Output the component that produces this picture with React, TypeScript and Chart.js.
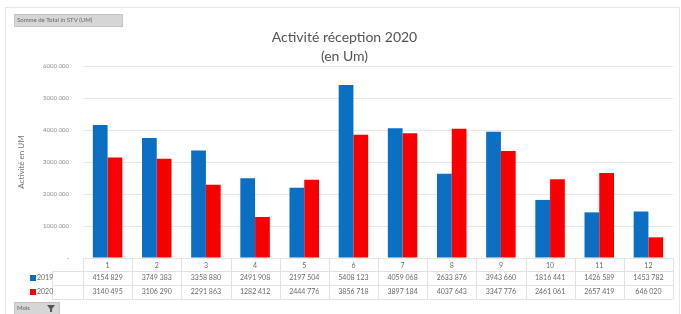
import React, { useEffect, useRef } from "react";
import { Chart, registerables } from "chart.js";

Chart.register(...registerables);

const months = ["1", "2", "3", "4", "5", "6", "7", "8", "9", "10", "11", "12"];
const series2019 = [4154829, 3749383, 3358880, 2491908, 2197504, 5408123, 4059068, 2633876, 3943660, 1816441, 1426589, 1453782];
const series2020 = [3140495, 3106290, 2291863, 1282412, 2444776, 3856718, 3897184, 4037643, 3347776, 2461061, 2657419, 646020];
const seriesNames = ["2019", "2020"];
const yTicks = [0, 1000000, 2000000, 3000000, 4000000, 5000000, 6000000];
const titleLines = ["Activité réception 2020", "(en Um)"];
const yTitle = "Activité en UM";
const fieldButton = "Somme de Total in STV (UM)";
const axisButton = "Mois";

const BLUE = "#0a6ec2";
const RED = "#f80000";
const TEXT = "#6a6a6a";
const FONT = "Lato, 'Open Sans', sans-serif";

function fmt(n: number): string {
  if (n === 0) return "-";
  const th = Math.floor(n / 1000);
  const rest = String(n % 1000).padStart(3, "0");
  return `${th} ${rest}`;
}

const tablePlugin = {
  id: "dataTable",
  afterDraw(chart: any) {
    const ctx = chart.ctx as CanvasRenderingContext2D;
    const x = chart.scales.x;
    const area = chart.chartArea;
    const catW = (area.right - area.left) / months.length;
    ctx.save();
    // outer chart border
    ctx.strokeStyle = "#e6e6e6";
    ctx.lineWidth = 1;
    ctx.strokeRect(5.5, 7.5, 674, 310);

    // table grid
    const rowTops = [area.bottom, area.bottom + 13, area.bottom + 27, area.bottom + 41];
    ctx.strokeStyle = "#e2e2e2";
    ctx.beginPath();
    for (let i = 1; i < rowTops.length; i++) {
      ctx.moveTo(52, Math.round(rowTops[i]) + 0.5);
      ctx.lineTo(area.right, Math.round(rowTops[i]) + 0.5);
    }
    for (let k = 0; k <= months.length; k++) {
      const bx = Math.round(area.left + k * catW) + 0.5;
      ctx.moveTo(bx, area.bottom);
      ctx.lineTo(bx, rowTops[3]);
    }
    ctx.moveTo(52.5, rowTops[1]);
    ctx.lineTo(52.5, rowTops[3]);
    ctx.stroke();

    // category labels and values
    ctx.fillStyle = TEXT;
    ctx.textAlign = "center";
    ctx.textBaseline = "middle";
    ctx.font = `7px ${FONT}`;
    const rowsData = [series2019, series2020];
    months.forEach((m, i) => {
      const cx = x.getPixelForValue(i);
      ctx.fillText(m, cx, (rowTops[0] + rowTops[1]) / 2 + 1);
      rowsData.forEach((arr, r) => {
        ctx.fillText(fmt(arr[i]), cx, (rowTops[r + 1] + rowTops[r + 2]) / 2);
      });
    });
    // legend keys
    const colors = [BLUE, RED];
    ctx.textAlign = "left";
    seriesNames.forEach((name, r) => {
      const cy = (rowTops[r + 1] + rowTops[r + 2]) / 2;
      ctx.fillStyle = colors[r];
      ctx.fillRect(30, cy - 3, 6, 6);
      ctx.fillStyle = TEXT;
      ctx.fillText(name, 37, cy);
    });

    // field buttons
    ctx.fillStyle = "#d6d6d6";
    ctx.fillRect(14, 14, 109, 13);
    ctx.strokeStyle = "#c4c4c4";
    ctx.strokeRect(14.5, 14.5, 108, 12);
    ctx.fillStyle = "#666";
    ctx.font = `6px ${FONT}`;
    ctx.textBaseline = "middle";
    ctx.fillText(fieldButton, 17, 20.5);

    ctx.fillStyle = "#d6d6d6";
    ctx.fillRect(14, 302, 46, 12);
    ctx.strokeStyle = "#c4c4c4";
    ctx.strokeRect(14.5, 302.5, 45, 12);
    ctx.fillStyle = "#666";
    ctx.font = `6px ${FONT}`;
    ctx.fillText(axisButton, 17, 308.5);
    // filter icon
    ctx.beginPath();
    ctx.moveTo(47, 305);
    ctx.lineTo(55, 305);
    ctx.lineTo(52, 309);
    ctx.lineTo(52, 312);
    ctx.lineTo(50, 312);
    ctx.lineTo(50, 309);
    ctx.closePath();
    ctx.fillStyle = "#555";
    ctx.fill();
    ctx.restore();
  },
};

export default function App() {
  const ref = useRef<HTMLCanvasElement>(null);
  useEffect(() => {
    if (!ref.current) return;
    const chart = new Chart(ref.current, {
      type: "bar",
      data: {
        labels: months,
        datasets: [
          { label: seriesNames[0], data: series2019, backgroundColor: BLUE, borderWidth: 0 },
          { label: seriesNames[1], data: series2020, backgroundColor: RED, borderWidth: 0 },
        ],
      },
      plugins: [tablePlugin],
      options: {
        responsive: false,
        animation: false,
        devicePixelRatio: 1,
        layout: { padding: { left: 16, right: 8, top: 0, bottom: 56 } },
        datasets: { bar: { categoryPercentage: 0.6, barPercentage: 1 } },
        plugins: {
          legend: { display: false },
          tooltip: { enabled: false },
          title: {
            display: true,
            text: titleLines,
            color: "#555",
            font: { family: FONT, size: 14, weight: "normal", lineHeight: 1.36 },
            padding: { top: 28, bottom: 0 },
          },
        },
        scales: {
          x: {
            grid: { display: false },
            border: { display: false },
            ticks: { display: false },
            afterFit: (s: any) => {
              s.height = 0;
            },
          },
          y: {
            min: 0,
            max: 6000000,
            afterBuildTicks: (s: any) => {
              s.ticks = yTicks.map((v) => ({ value: v }));
            },
            ticks: {
              padding: 14,
              color: "#8a8a8a",
              font: { family: FONT, size: 6 },
              callback: (v: any) => fmt(Number(v)),
            },
            grid: { color: "#e6e6e6", drawTicks: false },
            border: { display: false },
            title: {
              display: true,
              text: yTitle,
              color: "#777",
              font: { family: FONT, size: 8 },
              padding: { top: 1, bottom: 0 },
            },
            afterFit: (s: any) => {
              s.width = 67;
            },
          },
        },
      },
    });
    return () => chart.destroy();
  }, []);
  return (
    <div style={{ position: "fixed", left: 0, top: 0, width: 681, height: 314, background: "#fff" }}>
      <canvas ref={ref} width={681} height={314} style={{ display: "block" }} />
    </div>
  );
}
